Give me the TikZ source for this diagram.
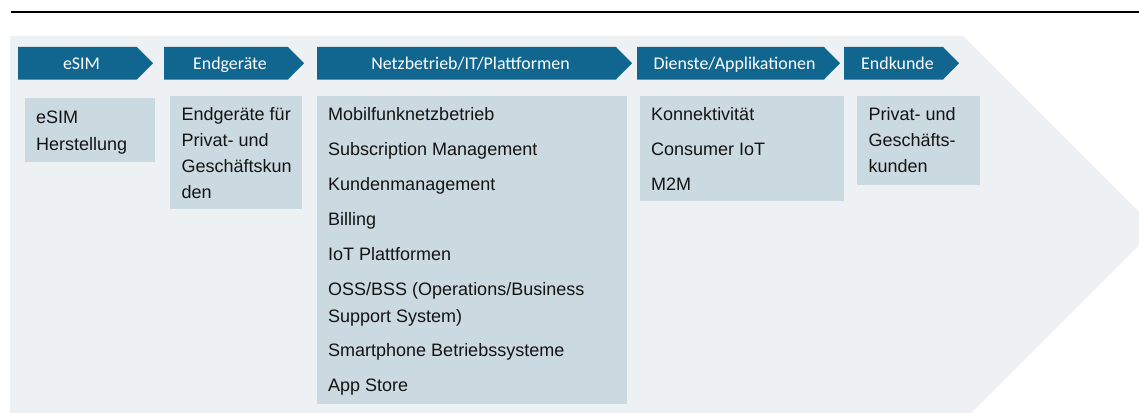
\documentclass[tikz,border=0pt]{standalone}
\usepackage{fontspec}
\setmainfont{Liberation Sans}
\newfontfamily\chevfont{Carlito}
\definecolor{chevblue}{HTML}{11668F}
\definecolor{bgpale}{HTML}{EDF1F4}
\definecolor{boxgray}{HTML}{CBD9E0}
\definecolor{txt}{HTML}{141414}
\tikzset{
  chevlabel/.style={text=white, font=\chevfont\fontsize{17.9}{20}\selectfont, anchor=base, inner sep=0pt},
  itemtxt/.style={text=txt, font=\fontsize{18}{20}\selectfont, anchor=base west, inner sep=0pt},
  chevfill/.style={fill=chevblue},
  boxfill/.style={fill=boxgray},
}
\newcommand{\chev}[4]{% left, tip, name, label
  \fill[chevfill] (#1,47) -- ({#2-16},47) -- (#2,63.25) -- ({#2-16},79.5) -- (#1,79.5) -- cycle;
  \node[chevlabel] (#3) at ({(#1+#2-8)/2},69) {#4};
}
\begin{document}
\begin{tikzpicture}[x=1pt,y=-1pt]
\clip (0,0) rectangle (1139,412);
\fill[white] (0,0) rectangle (1139,412);
% top rule
\draw[line width=2pt, black] (11,12) -- (1139,12);
% background arrow
\fill[bgpale] (10,36) -- (963,36) -- (1155.5,228.5) -- (950,434) -- (10,434) -- cycle;
% chevrons
\chev{18}{153}{h1}{eSIM}
\chev{164}{304}{h2}{Endgeräte}
\chev{317}{632}{h3}{Netzbetrieb/IT/Plattformen}
\chev{637}{840}{h4}{Dienste/Applikationen}
\chev{844}{959}{h5}{Endkunde}
% boxes
\fill[boxfill] (25,98) rectangle (155,162);
\fill[boxfill] (170,96) rectangle (302,209);
\fill[boxfill] (317,96) rectangle (627,404);
\fill[boxfill] (640,96) rectangle (844,201);
\fill[boxfill] (857,96) rectangle (980,185);
% eSIM box
\node[itemtxt] (a1) at (36,123.3) {eSIM};
\node[itemtxt] (a2) at (36,150) {Herstellung};
% Endgeraete box
\node[itemtxt] (b1) at (181.5,120.7) {Endgeräte für};
\node[itemtxt] (b2) at (181.5,146.7) {Privat- und};
\node[itemtxt] (b3) at (181.5,172.7) {Geschäftskun};
\node[itemtxt] (b4) at (181.5,198.5) {den};
% Netz box
\node[itemtxt] (c1) at (328,120.7) {Mobilfunknetzbetrieb};
\node[itemtxt] (c2) at (328,155.7) {Subscription Management};
\node[itemtxt] (c3) at (328,190.7) {Kundenmanagement};
\node[itemtxt] (c4) at (328,225.7) {Billing};
\node[itemtxt] (c5) at (328,260.7) {IoT Plattformen};
\node[itemtxt] (c6) at (328,295.7) {OSS/BSS (Operations/Business};
\node[itemtxt] (c7) at (328,322.3) {Support System)};
\node[itemtxt] (c8) at (328,356.7) {Smartphone Betriebssysteme};
\node[itemtxt] (c9) at (328,391.7) {App Store};
% Dienste box
\node[itemtxt] (d1) at (651,120.7) {Konnektivität};
\node[itemtxt] (d2) at (651,155.7) {Consumer IoT};
\node[itemtxt] (d3) at (651,190.3) {M2M};
% Endkunde box
\node[itemtxt] (e1) at (868.3,120.7) {Privat- und};
\node[itemtxt] (e2) at (868.3,146.7) {Geschäfts-};
\node[itemtxt] (e3) at (868.3,172.7) {kunden};
\end{tikzpicture}
\end{document}
